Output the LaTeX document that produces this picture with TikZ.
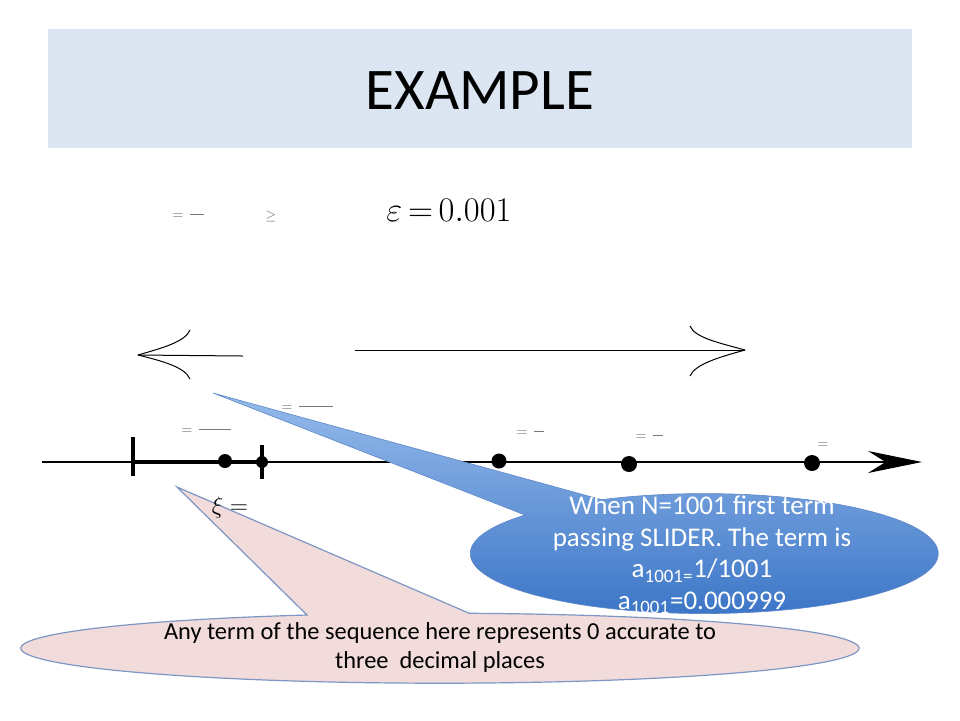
\documentclass[tikz,border=0pt]{standalone}
\usepackage{fontspec}
\setmainfont{Carlito}
\usetikzlibrary{arrows.meta, positioning}

\definecolor{bandblue}{RGB}{220,230,242}
\definecolor{sliderlight}{RGB}{150,187,235}
\definecolor{sliderdark}{RGB}{58,116,198}
\definecolor{slideredge}{RGB}{95,135,200}
\definecolor{notepink}{RGB}{242,220,219}
\definecolor{noteedge}{RGB}{125,150,195}
\definecolor{fraggray}{RGB}{120,120,120}

\newcommand{\fragbar}[1]{$=$\hspace{3pt}\rule[2pt]{#1}{0.5pt}}

\begin{document}
\begin{tikzpicture}[
    x=0.5pt, y=-0.5pt,
    band/.style={
        rectangle, fill=bandblue, minimum width=432pt, minimum height=59.5pt
    },
    title/.style={font=\fontsize{29.5}{34}\selectfont, inner sep=0pt},
    frag/.style={text=fraggray, inner sep=0pt, font=\fontsize{6.5}{8}\selectfont},
    dot/.style={circle, fill=black, inner sep=0pt, minimum size=#1},
    limithead/.style={line width=0.5pt},
    axis/.style={line width=0.6pt, -{Stealth[length=27pt, width=11pt]}},
    slab/.style={line width=1.8pt},
    tick/.style={line width=1.6pt},
    slidertext/.style={
        text=white, align=center, inner sep=0pt,
        font=\fontsize{13.5}{15.8}\selectfont
    },
    notetext/.style={
        align=center, inner sep=0pt, font=\fontsize{12.2}{14.5}\selectfont
    }
]
\useasboundingbox (0,0) rectangle (960,720);

%% Title band
\node (bandbox) [band] at (480,88.5) {};
\node (title) [title] at (480,91) {EXAMPLE};

%% Formula line
\node (fragA) [frag] at (188,216) {\fragbar{7pt}};
\node (fragB) [frag] at (271,216) {$\geq$};
\node (eps) [font=\fontsize{16}{18}\selectfont] at (449,210) {$\varepsilon\mkern-2mu=\mkern-2mu0.001$};

%% Limit arrows
\coordinate (ltip) at (138,355);
\coordinate (lend) at (243,356);
\draw [limithead] (lend) -- (ltip);
\draw [limithead] (190,330) .. controls (185,342) and (162,348) .. (ltip);
\draw [limithead] (190,379) .. controls (185,367) and (162,361) .. (ltip);

\coordinate (rstart) at (355,350);
\coordinate (rtip) at (745,350);
\draw [limithead] (rstart) -- (rtip);
\draw [limithead] (690,326) .. controls (695,338) and (720,343) .. (rtip);
\draw [limithead] (690,376) .. controls (695,364) and (720,357) .. (rtip);

%% Number line
\coordinate (start) at (42,462);
\coordinate (end) at (922,462);
\coordinate (lo) at (133,462);
\coordinate (hi) at (262,462);
\draw [axis] (start) -- (end);
\draw [slab] (lo) -- (hi);
\draw [tick] ([yshift=12.5pt]lo) -- ([yshift=-7pt]lo);
\draw [tick] ([yshift=8.5pt]hi) -- ([yshift=-8.5pt]hi);

\node (d1) [dot=7pt] at (225,461) {};
\node (d2) [dot=6pt] at (hi) {};
\node (d3) [dot=7.5pt] at (499,461) {};
\node (d4) [dot=8pt] at (629,464) {};
\node (d5) [dot=8pt] at (812,463) {};

\node (fragC) [frag] at (206,431) {\fragbar{16pt}};
\node (fragD) [frag] at (307,408) {\fragbar{17pt}};
\node (fragE) [frag] at (530,433) {\fragbar{5pt}};
\node (fragF) [frag] at (649,437) {\fragbar{5pt}};
\node (fragG) [frag] at (823,445) {$=$};

%% Slider callout
\coordinate (slidertip) at (213,393);
\path [draw=slideredge, line width=0.3pt, top color=sliderlight, bottom color=sliderdark]
    (slidertip) -- (525,515)
    arc [start angle=220, end angle=-116, x radius=234, y radius=60] -- cycle;
\node (slider) [slidertext] at (702,555)
    {When N=1001 first term\\
     passing SLIDER. The term is\\
     a\textsubscript{1001=}1/1001\\
     a\textsubscript{1001}=0.000999};

%% Note callout
\coordinate (notetip) at (177,487);
\path [draw=noteedge, fill=notepink, line width=0.6pt]
    (notetip) -- (307,615)
    arc [start angle=251.5, end angle=-86, x radius=419, y radius=35] -- cycle;
\node (note) [notetext] at (440,647)
    {Any term of the sequence here represents 0 accurate to\\
     three~ decimal places};

%% Xi label
\node (xi) [font=\fontsize{12}{14}\selectfont] at (230,507) {$\xi =$};

\end{tikzpicture}
\end{document}
